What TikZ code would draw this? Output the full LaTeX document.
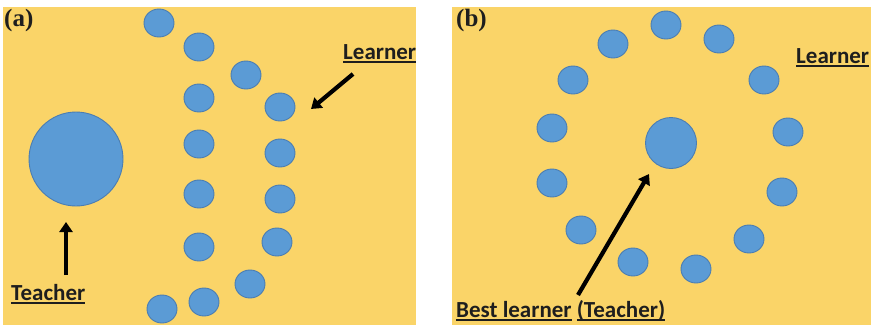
\documentclass[tikz,border=0pt]{standalone}
\usepackage{fontspec}
\setmainfont{Carlito}
\newfontfamily\panelfont{Liberation Serif}
\usetikzlibrary{shapes.geometric,arrows.meta}
\definecolor{panelbg}{HTML}{FAD468}
\definecolor{dotfill}{HTML}{5B9BD5}
\definecolor{dotedge}{HTML}{4A7DB3}
\definecolor{inkcol}{HTML}{1E1E1E}
\newsavebox\ulbx
% bold label with a thick underline
\newcommand\ulabel[1]{\sbox\ulbx{#1}\rlap{\rule[-3.8pt]{\wd\ulbx}{1.8pt}}\usebox\ulbx}
\tikzset{
  panel/.style={fill=panelbg, draw=none},
  learnerdot/.style={ellipse, fill=dotfill, draw=dotedge, line width=0.9pt,
    minimum width=30pt, minimum height=28pt, inner sep=0pt},
  bigdot/.style={circle, fill=dotfill, draw=dotedge, line width=0.9pt, inner sep=0pt},
  tag/.style={font=\panelfont\bfseries\fontsize{25}{25}\selectfont, text=inkcol,
    anchor=base west, inner sep=0pt},
  lbl/.style={font=\bfseries\fontsize{23}{23}\selectfont, text=inkcol,
    anchor=base west, inner sep=0pt},
  pointer/.style={draw=black, line width=4.2pt,
    -{Triangle[width=13pt,length=10pt]}}
}
\begin{document}
\begin{tikzpicture}[x=1pt,y=-1pt]
\useasboundingbox (0,0) rectangle (871,327);
\fill[white] (0,0) rectangle (871,327);

% ---------- panel (a): lecture layout ----------
\fill[panel] (3,7) rectangle (416,325);
\node[tag] (ta) at (4,26) {(a)};
\node[bigdot, minimum size=94pt] (teachA) at (76,159) {};
\foreach \n/\x/\y in {1/159/23, 2/199/47, 3/246/75, 4/199/98, 5/280/107,
                      6/199/144, 7/280/153, 8/199/194, 9/280/199, 10/199/247,
                      11/277/242, 12/250/284, 13/204/302, 14/162/309}
  \node[learnerdot] (a\n) at (\x,\y) {};
\node[lbl] (teachAlbl) at (11,300) {\ulabel{Teacher}};
\node[lbl] (learnAlbl) at (343,59) {\ulabel{Learner}};
\coordinate (ta0) at (66,275);
\coordinate (ta1) at (66,222);
\draw[pointer] (ta0) -- (ta1);
\coordinate (la0) at (353,74);
\coordinate (la1) at (311,109);
\draw[pointer] (la0) -- (la1);

% ---------- panel (b): circle around the best learner ----------
\fill[panel] (452,7) rectangle (871,325);
\node[tag] (tb) at (456,26) {(b)};
\node[bigdot, minimum size=51pt] (teachB) at (671,143) {};
\foreach \n/\x/\y in {1/666/25, 2/613/44, 3/719/39, 4/573/80, 5/764/80,
                      6/552/128, 7/788/132, 8/552/183, 9/782/192, 10/581/230,
                      11/749/239, 12/633/262, 13/696/269}
  \node[learnerdot] (b\n) at (\x,\y) {};
\node[lbl] (learnBlbl) at (796,63) {\ulabel{Learner}};
\node[lbl] (bestlbl) at (456,317) {\ulabel{Best learner} \ulabel{(Teacher)}};
\coordinate (tb0) at (578,295);
\coordinate (tb1) at (649,174);
\draw[pointer] (tb0) -- (tb1);
\end{tikzpicture}
\end{document}
